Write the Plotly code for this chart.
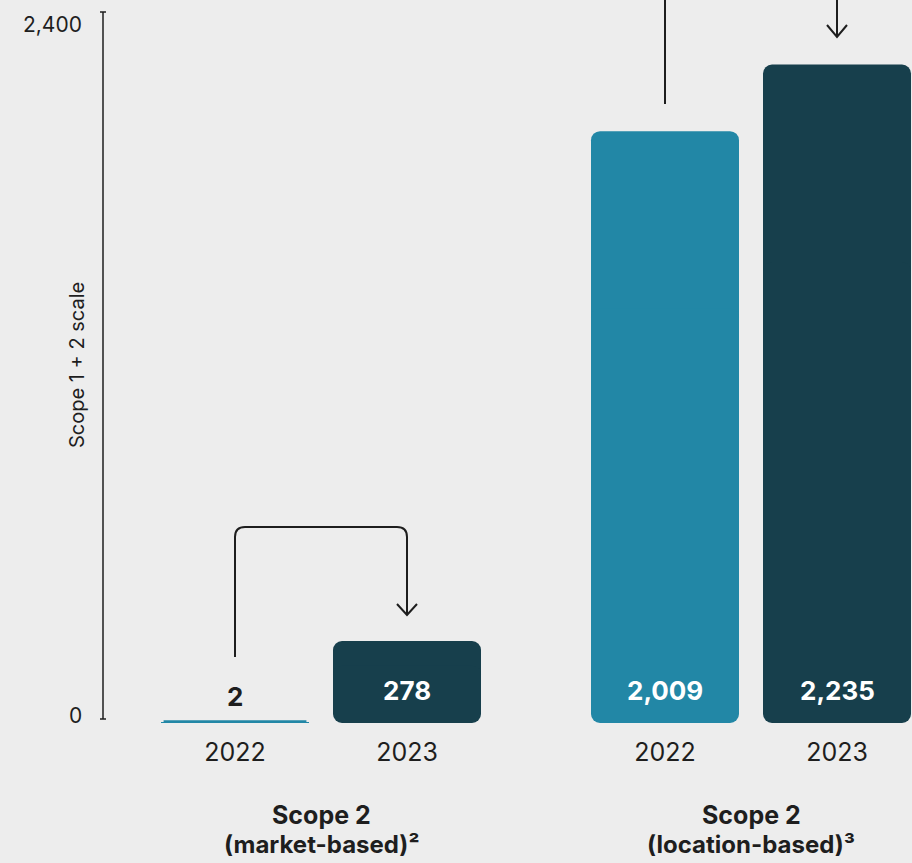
import plotly.graph_objects as go

# data
years = ["2022", "2023", "2022", "2023"]
x_pos = [0, 1, 2.5, 3.5]
values = [2, 278, 2009, 2235]
bar_colors = ["#2287a6", "#173f4c", "#2287a6", "#173f4c"]
groups = ["Scope 2", "Scope 2"]
group_subs = ["(market-based)²", "(location-based)³"]
group_x = [0.5, 3.0]
y_ticks = [0, 2400]
y_title = "Scope 1 + 2 scale"

Y_MAX = 2400
BG = "#ededed"
INK = "#1e1e1e"
FONT = "Inter"

# plot area in px (for converting arrow geometry)
W, H = 912, 863
M_L, M_R, M_T, M_B = 103, 0, 16, 140
PH = H - M_T - M_B
PW = W - M_L - M_R
ZERO_PX = H - M_B
UNIT = 172  # px per category step, keeps bar edges on whole pixels
X_RANGE = [-132 / UNIT, (PW - 132) / UNIT]
BAR_W = 148 / UNIT
PX_Y = PH / Y_MAX
PX_X = UNIT

fig = go.Figure()

# each bar drawn as two overlapping pieces so both ends get rounded corners
fig.add_trace(go.Bar(
    x=x_pos, y=[v * 0.7 for v in values], base=[v * 0.3 for v in values],
    width=BAR_W, marker=dict(color=bar_colors, line_width=0, opacity=1),
    hoverinfo="skip", showlegend=False))
fig.add_trace(go.Bar(
    x=x_pos, y=[-v * 0.7 for v in values], base=[v * 0.7 for v in values],
    width=BAR_W, marker=dict(color=bar_colors, line_width=0, opacity=1),
    hoverinfo="skip", showlegend=False))

# very small bars still get a visible stroke
tiny = [v < 20 for v in values]
for xp, v, c, t in zip(x_pos, values, bar_colors, tiny):
    if t:
        fig.add_trace(go.Scatter(
            x=[xp - BAR_W / 2 + 0.015, xp + BAR_W / 2 - 0.015], y=[v / 2, v / 2],
            mode="lines", line=dict(color=c, width=5), cliponaxis=False,
            hoverinfo="skip", showlegend=False))

# value labels
for xp, v, t in zip(x_pos, values, tiny):
    fig.add_annotation(x=xp, y=0, xref="x", yref="y", text=f"<b>{v:,}</b>",
                       showarrow=False, yanchor="middle", yshift=27 if t else 33,
                       font=dict(family=FONT, size=26, color=INK if t else "white"))

# group labels
for gx, g, s in zip(group_x, groups, group_subs):
    fig.add_annotation(x=gx, y=0, xref="x", yref="y", text=f"<b>{g}</b>",
                       showarrow=False, yanchor="middle", yshift=-92,
                       font=dict(family=FONT, size=25, color=INK))
    fig.add_annotation(x=gx, y=0, xref="x", yref="y", text=f"<b>{s}</b>",
                       showarrow=False, yanchor="middle", yshift=-121,
                       font=dict(family=FONT, size=24, color=INK))

# y axis: line, end ticks and labels sitting slightly inside the ends
AX_BOT, AX_TOP = (ZERO_PX - 719) / PH, (ZERO_PX - 12) / PH
fig.add_shape(type="line", xref="paper", yref="paper", x0=0, x1=0, y0=AX_BOT, y1=AX_TOP,
              line=dict(color=INK, width=1.5))
for yy in (AX_BOT, AX_TOP):
    fig.add_shape(type="line", xref="paper", yref="paper", x0=-3 / PW, x1=3 / PW,
                  y0=yy, y1=yy, line=dict(color=INK, width=1.5))
for v, yy, shift in zip(y_ticks, (AX_BOT, AX_TOP), [4, -12]):
    fig.add_annotation(x=0, y=yy, xref="paper", yref="paper", text=f"{v:,}",
                       xanchor="right", yanchor="middle", xshift=-19, yshift=shift,
                       showarrow=False, font=dict(family=FONT, size=21, color=INK))

# y title
fig.add_annotation(x=-26 / PW, y=(ZERO_PX - 365) / PH, xref="paper", yref="paper",
                   xanchor="center", yanchor="middle",
                   text=y_title, textangle=-90, showarrow=False,
                   font=dict(family=FONT, size=20, color=INK))


def dy(px):
    return px / PX_Y


def dx(px):
    return px / PX_X


line_style = dict(color=INK, width=2)

# market-based change arrow (2022 -> 2023)
x0, x1 = x_pos[0], x_pos[1]
y_start = dy(ZERO_PX - 657)
y_top = dy(ZERO_PX - 527)
y_tip = dy(ZERO_PX - 615)
r_x, r_y = dx(10), dy(10)
fig.add_shape(type="path", xref="x", yref="y", line=line_style,
              path=(f"M {x0},{y_start} L {x0},{y_top - r_y} Q {x0},{y_top} {x0 + r_x},{y_top} "
                    f"L {x1 - r_x},{y_top} Q {x1},{y_top} {x1},{y_top - r_y} L {x1},{y_tip}"))
fig.add_shape(type="path", xref="x", yref="y", line=line_style,
              path=f"M {x1 - dx(10)},{y_tip + dy(11)} L {x1},{y_tip} L {x1 + dx(10)},{y_tip + dy(11)}")

# location-based arrow going off the top
x2, x3 = x_pos[2], x_pos[3]
top = ZERO_PX / PH + 0.01
fig.add_shape(type="line", xref="x", yref="paper", line=line_style,
              x0=x2, x1=x2, y0=(ZERO_PX - 104) / PH, y1=top)
tip = (ZERO_PX - 37) / PH
fig.add_shape(type="line", xref="x", yref="paper", line=line_style,
              x0=x3, x1=x3, y0=tip, y1=top)
fig.add_shape(type="path", xref="x", yref="paper", line=line_style,
              path=f"M {x3 - dx(10)},{tip + 12 / PH} L {x3},{tip} L {x3 + dx(10)},{tip + 12 / PH}")

fig.update_layout(
    width=W, height=H,
    margin=dict(l=M_L, r=M_R, t=M_T, b=M_B),
    paper_bgcolor=BG, plot_bgcolor=BG,
    barmode="overlay", barcornerradius=9,
    font=dict(family=FONT, color=INK),
    showlegend=False,
    xaxis=dict(range=X_RANGE, tickvals=x_pos, ticktext=years, showgrid=False,
               zeroline=False, showline=False, ticks="", ticklabelstandoff=12,
               tickfont=dict(family=FONT, size=25, color=INK), fixedrange=True),
    yaxis=dict(range=[0, Y_MAX], showticklabels=False, ticks="",
               showgrid=False, zeroline=False, showline=False, fixedrange=True),
)

fig.write_html("out.html", config={"displayModeBar": False},
               post_script="document.body.style.margin = '0';")
